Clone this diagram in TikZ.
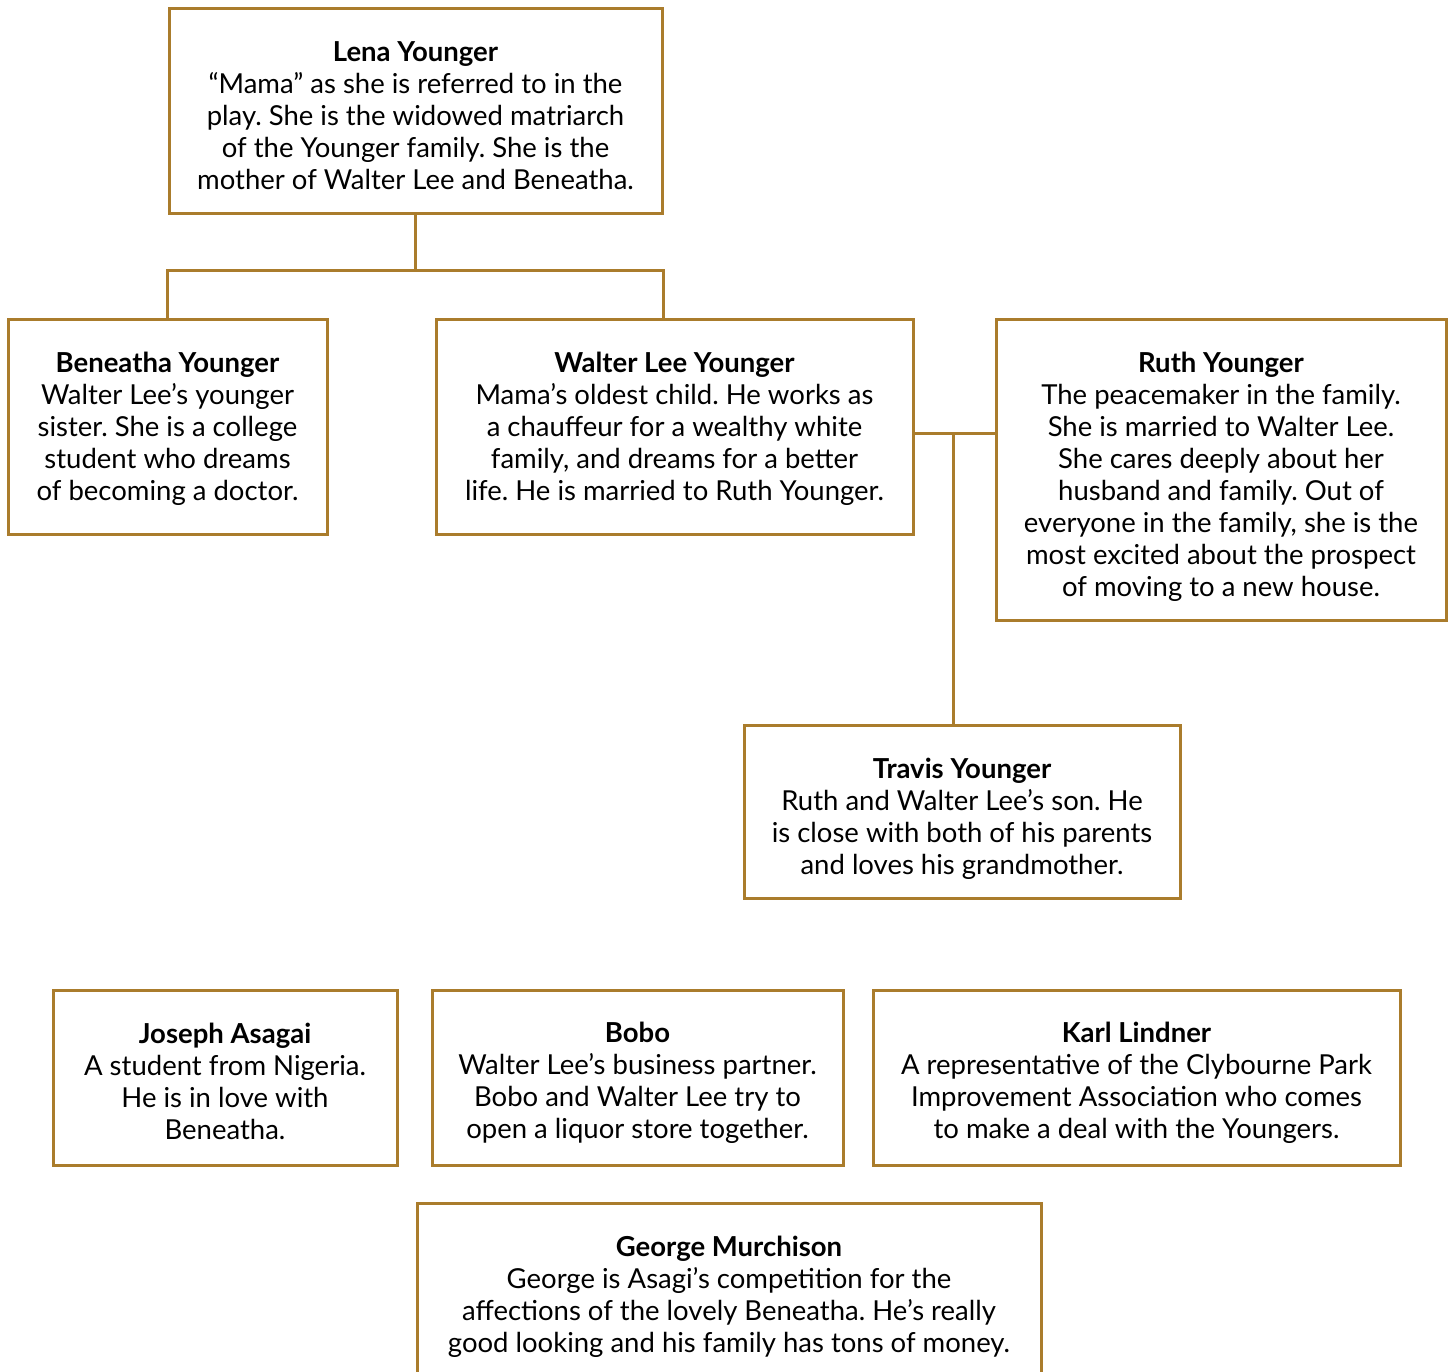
\documentclass[tikz,border=0pt]{standalone}
\usepackage{fontspec}
\setmainfont{Lato}
\frenchspacing
\definecolor{gold}{RGB}{170,124,44}
\begin{document}
\begin{tikzpicture}[x=1pt,y=-1pt,
  card/.style={draw=gold, line width=3pt, fill=white, inner sep=0pt},
  words/.style={align=center, inner sep=0pt,
    font=\fontsize{27.5}{32}\selectfont},
  link/.style={draw=gold, line width=3pt}]
\useasboundingbox (0,0) rectangle (1448,1371);
\newcommand{\ttl}[1]{\textbf{#1}}
\node[card, minimum width=493, minimum height=205] (lena) at (415.5,110.5) {};
\node[words, yshift=-5pt] (lenat) at (lena.center)
 {\ttl{Lena Younger}\\“Mama” as she is referred to in the\\play. She is the widowed matriarch\\of the Younger family. She is the\\mother of Walter Lee and Beneatha.};
\node[card, minimum width=319, minimum height=215] (beneatha) at (167.5,426.5) {};
\node[words, yshift=-2pt] (beneathat) at (beneatha.center)
 {\ttl{Beneatha Younger}\\Walter Lee’s younger\\sister. She is a college\\student who dreams\\of becoming a doctor.};
\node[card, minimum width=477, minimum height=215] (walter) at (674.5,426.5) {};
\node[words, yshift=-2pt] (waltert) at (walter.center)
 {\ttl{Walter Lee Younger}\\Mama’s oldest child. He works as\\a chauffeur for a wealthy white\\family, and dreams for a better\\life. He is married to Ruth Younger.};
\node[card, minimum width=450, minimum height=301] (ruth) at (1221,469.5) {};
\node[words, yshift=-7pt] (rutht) at (ruth.center)
 {\ttl{Ruth Younger}\\The peacemaker in the family.\\She is married to Walter Lee.\\She cares deeply about her\\husband and family. Out of\\everyone in the family, she is the\\most excited about the prospect\\of moving to a new house.};
\node[card, minimum width=436, minimum height=173] (travis) at (962,811.5) {};
\node[words, yshift=-7pt] (travist) at (travis.center)
 {\ttl{Travis Younger}\\Ruth and Walter Lee’s son. He\\is close with both of his parents\\and loves his grandmother.};
\node[card, minimum width=344, minimum height=175] (joseph) at (225,1077.5) {};
\node[words, yshift=-4pt] (josepht) at (joseph.center)
 {\ttl{Joseph Asagai}\\A student from Nigeria.\\He is in love with\\Beneatha.};
\node[card, minimum width=411, minimum height=175] (bobo) at (637.5,1077.5) {};
\node[words, yshift=-5pt] (bobot) at (bobo.center)
 {\ttl{Bobo}\\Walter Lee’s business partner.\\Bobo and Walter Lee try to\\open a liquor store together.};
\node[card, minimum width=527, minimum height=175] (karl) at (1136.5,1077.5) {};
\node[words, yshift=-5pt] (karlt) at (karl.center)
 {\ttl{Karl Lindner}\\A representative of the Clybourne Park\\Improvement Association who comes\\to make a deal with the Youngers.};
% George box: open at the bottom edge of the picture
\coordinate (gbl) at (417,1373);
\coordinate (gtl) at (417,1203);
\coordinate (gtr) at (1041,1203);
\coordinate (gbr) at (1041,1373);
\draw[link] (gbl) -- (gtl) -- (gtr) -- (gbr);
\node[words, yshift=-7pt] (georget) at (729,1289.5)
 {\ttl{George Murchison}\\George is Asagi’s competition for the\\affections of the lovely Beneatha. He’s really\\good looking and his family has tons of money.};
% family connectors
\coordinate (bus) at (415.5,270);
\coordinate (marr) at (953,433);
\draw[link] (lena.south) -- (lena.south |- bus);
\draw[link] (lena.south west |- beneatha.north) -- (lena.south west |- bus)
  -- (lena.south east |- bus) -- (lena.south east |- walter.north);
\draw[link] (walter.east |- marr) -- (ruth.west |- marr);
\draw[link] (marr) -- (marr |- travis.north);
\end{tikzpicture}
\end{document}
